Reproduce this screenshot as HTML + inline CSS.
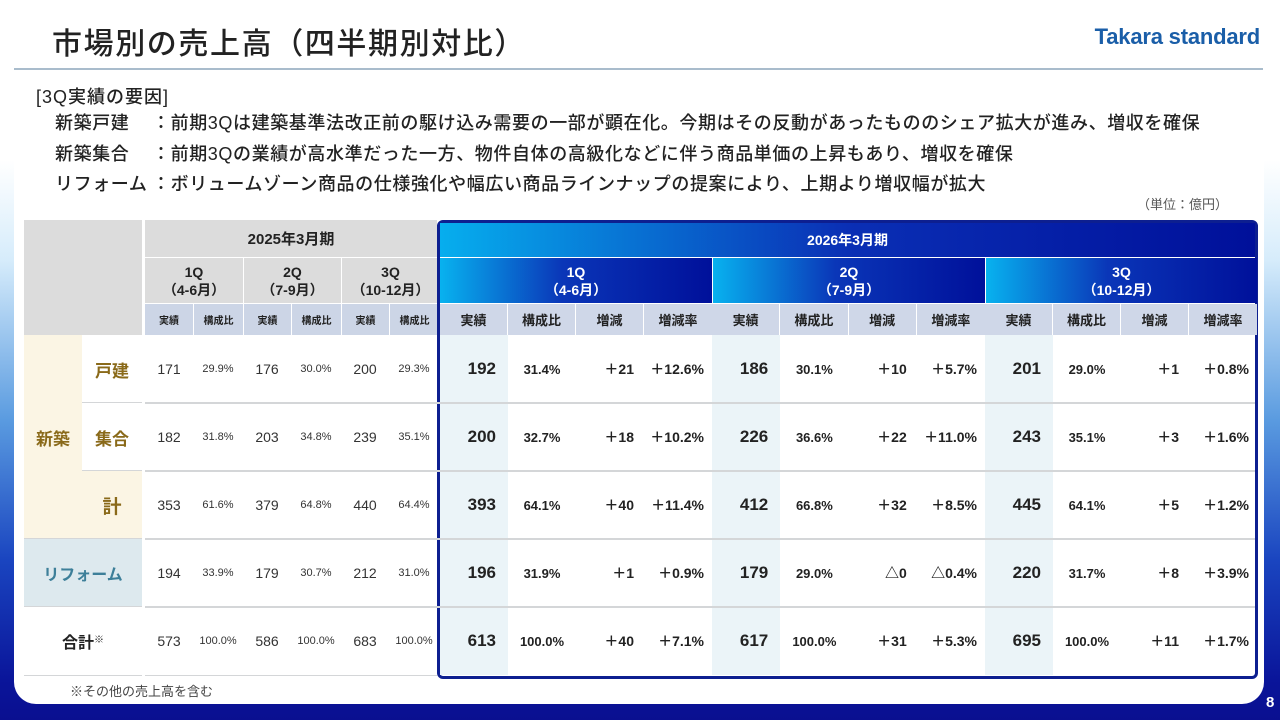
<!DOCTYPE html>
<html><head><meta charset="utf-8">
<style>
*{margin:0;padding:0;box-sizing:border-box}
body{width:1280px;height:720px;overflow:hidden;font-family:"Liberation Sans","Noto Sans CJK JP",sans-serif;color:#222;position:relative;
background:linear-gradient(180deg,#ffffff 0px,#ffffff 160px,#d6ecfb 260px,#5a9be0 420px,#1a45c0 560px,#0a159a 680px,#0a0f90 720px);}
.abs{position:absolute}
#card{left:14px;top:0;width:1250px;height:704px;background:#fff;border-radius:0 0 22px 22px}
.c{position:absolute;display:flex;align-items:center;justify-content:center;text-align:center;white-space:nowrap}
.r{justify-content:flex-end}
.fl{position:absolute;left:55px;font-size:18px;font-weight:500;letter-spacing:0.6px;white-space:nowrap}
.fl span{display:inline-block;width:97px;letter-spacing:0.6px}
</style></head><body>
<div id="card" class="abs"></div>
<div class="abs" style="left:52px;top:19px;font-size:30px;font-weight:500;letter-spacing:1.6px">市場別の売上高（四半期別対比）</div>
<div class="abs" style="right:20px;top:24px;font-size:22px;font-weight:bold;color:#1a5ea8;letter-spacing:-0.2px">Takara standard</div>
<div class="abs" style="left:14px;top:68px;width:1249px;height:2px;background:#a9bccc"></div>
<div class="abs" style="left:36px;top:83px;font-size:18px;font-weight:500;letter-spacing:1px">[3Q実績の要因]</div>
<div class="fl" style="top:109px"><span>新築戸建</span>：前期3Qは建築基準法改正前の駆け込み需要の一部が顕在化。今期はその反動があったもののシェア拡大が進み、増収を確保</div>
<div class="fl" style="top:140px"><span>新築集合</span>：前期3Qの業績が高水準だった一方、物件自体の高級化などに伴う商品単価の上昇もあり、増収を確保</div>
<div class="fl" style="top:170px"><span>リフォーム</span>：ボリュームゾーン商品の仕様強化や幅広い商品ラインナップの提案により、上期より増収幅が拡大</div>
<div class="abs" style="right:52px;top:194px;font-size:13px;color:#555">（単位：億円）</div>
<div class="abs" style="left:70px;top:681px;font-size:13px;color:#444">※その他の売上高を含む</div>
<div class="abs" style="left:1266px;top:694px;font-size:15px;font-weight:bold;color:#fff">8</div>
<div id="tbl" class="abs" style="left:0;top:0;width:1280px;height:720px"></div>
<script>
const rowLabels=["戸建","集合","計","リフォーム","合計"];
const prevActual=[[171,176,200],[182,203,239],[353,379,440],[194,179,212],[573,586,683]];
const prevRatio=[["29.9%","30.0%","29.3%"],["31.8%","34.8%","35.1%"],["61.6%","64.8%","64.4%"],["33.9%","30.7%","31.0%"],["100.0%","100.0%","100.0%"]];
const curActual=[[192,186,201],[200,226,243],[393,412,445],[196,179,220],[613,617,695]];
const curRatio=[["31.4%","30.1%","29.0%"],["32.7%","36.6%","35.1%"],["64.1%","66.8%","64.1%"],["31.9%","29.0%","31.7%"],["100.0%","100.0%","100.0%"]];
const curDiff=[["＋21","＋10","＋1"],["＋18","＋22","＋3"],["＋40","＋32","＋5"],["＋1","△0","＋8"],["＋40","＋31","＋11"]];
const curRate=[["＋12.6%","＋5.7%","＋0.8%"],["＋10.2%","＋11.0%","＋1.6%"],["＋11.4%","＋8.5%","＋1.2%"],["＋0.9%","△0.4%","＋3.9%"],["＋7.1%","＋5.3%","＋1.7%"]];
const qLabels=["1Q","2Q","3Q"];
const qMonths=["（4-6月）","（7-9月）","（10-12月）"];

const T=document.getElementById('tbl');
function box(name,x,y,w,h,txt,style,cls){
  const d=document.createElement('div');
  d.className='c '+(cls||'');
  
  
  d.style.cssText=`left:${x}px;top:${y}px;width:${w}px;height:${h}px;`+(style||'');
  if(txt!==undefined) d.innerHTML=txt;
  T.appendChild(d);return d;
}
const rowY=[335,403,471,539,607], rowH=68;
const pX=[145,243,341], pW=98;
const cX=[440,712,985], cW=[272,273,272];
box('header-corner',24,220,118,115,'', 'background:#dcdcdc');
box('header-fy2025',145,220,292,37,'2025年3月期','background:#dcdcdc;font-weight:bold;font-size:15px');
for(let q=0;q<3;q++){
  box('header-2025-'+qLabels[q],pX[q]+(q?1:0),258,pW-(q?1:0),45,qLabels[q]+'<br>'+qMonths[q],'background:#dcdcdc;font-weight:bold;font-size:14px;line-height:18px');
  box('subhead-2025-actual',pX[q]+(q?1:0),304,48-(q?1:0),31,'実績','background:#ccd5e6;font-size:10px;font-weight:bold');
  box('subhead-2025-ratio',pX[q]+49,304,pW-49,31,'構成比','background:#ccd5e6;font-size:10px;font-weight:bold');
}
box('fy2026-frame',437,220,821,459,'','border:3px solid #0d1f90;border-radius:6px;background:#fff');
box('header-fy2026',440,223,815,34,'2026年3月期','background:linear-gradient(90deg,#06aeee 0%,#0a2fb5 50%,#00109a 100%);color:#fff;font-weight:bold;font-size:14px');
for(let q=0;q<3;q++){
  box('header-2026-'+qLabels[q],cX[q]+(q?1:0),258,cW[q]-(q?1:0),45,qLabels[q]+'<br>'+qMonths[q],'background:linear-gradient(90deg,#08b2ef 0%,#0a36b8 45%,#00109a 100%);color:#fff;font-weight:bold;font-size:14px;line-height:18px');
  const cw=cW[q]/4;const labs=['実績','構成比','増減','増減率'];
  for(let k=0;k<4;k++) box('subhead-2026-'+k,cX[q]+k*cw,304,cw-(k==3?0:1),31,labs[k],'background:#cfd7e8;font-size:13px;font-weight:bold');
  box('actual-col-bg',cX[q],335,cw,340,'','background:#ebf4f8');
}
box('group-shinchiku',24,335,58,204,'新築','background:#fbf5e4;color:#8a6a1a;font-weight:bold;font-size:17px');
const lblStyle=['background:#fff','background:#fff','background:#fbf5e4','background:#dde9ee','background:#fff'];
for(let i=0;i<5;i++){
  const y=rowY[i];
  const color=i<3?'#8a6a1a':(i==3?'#3d7f99':'#222');
  if(i<2) box('row-label-'+i,82,y,60,rowH,rowLabels[i],lblStyle[i]+';color:'+color+';font-weight:bold;font-size:17px');
  else if(i==2) box('row-label-'+i,82,y,60,rowH,rowLabels[i],lblStyle[i]+';color:'+color+';font-weight:bold;font-size:19px');
  else box('row-label-'+i,24,y,118,rowH,i==4?'合計<sup style="font-size:10px;vertical-align:top;line-height:14px">※</sup>':rowLabels[i],lblStyle[i]+';color:'+color+';font-weight:bold;font-size:16px');
  if(i<4){
    box('row-line',145,y+rowH-1,1110,2,'','background:#d4d6d8');
    if(i>=2) box('row-line-label',24,y+rowH-1,118,2,'','background:#d4d6d8');
    else box('row-line-label',82,y+rowH-1,60,2,'','background:#d4d6d8');
  }
  if(i==4){box('row-line-bottom',24,y+rowH,118,1,'','background:#d4d6d8');box('row-line-bottom',145,y+rowH,292,1,'','background:#d4d6d8');}
  for(let q=0;q<3;q++){
    box('prev-actual',pX[q],y,48,rowH,prevActual[i][q],'font-size:14px;color:#333;font-weight:300');
    box('prev-ratio',pX[q]+48,y,50,rowH,prevRatio[i][q],'font-size:11px;color:#333');
    const cw=cW[q]/4, x=cX[q];
    box('cur-actual',x,y,cw-12,rowH,curActual[i][q],'font-size:17px;font-weight:bold;color:#222','r');
    box('cur-ratio',x+cw,y,cw,rowH,curRatio[i][q],'font-size:13px;font-weight:bold;color:#222');
    box('cur-diff',x+2*cw,y,cw-10,rowH,curDiff[i][q],'font-size:14px;font-weight:bold;color:#222','r');
    box('cur-rate',x+3*cw,y,cw-8,rowH,curRate[i][q],'font-size:14px;font-weight:bold;color:#222','r');
  }
}
</script>
</body></html>
